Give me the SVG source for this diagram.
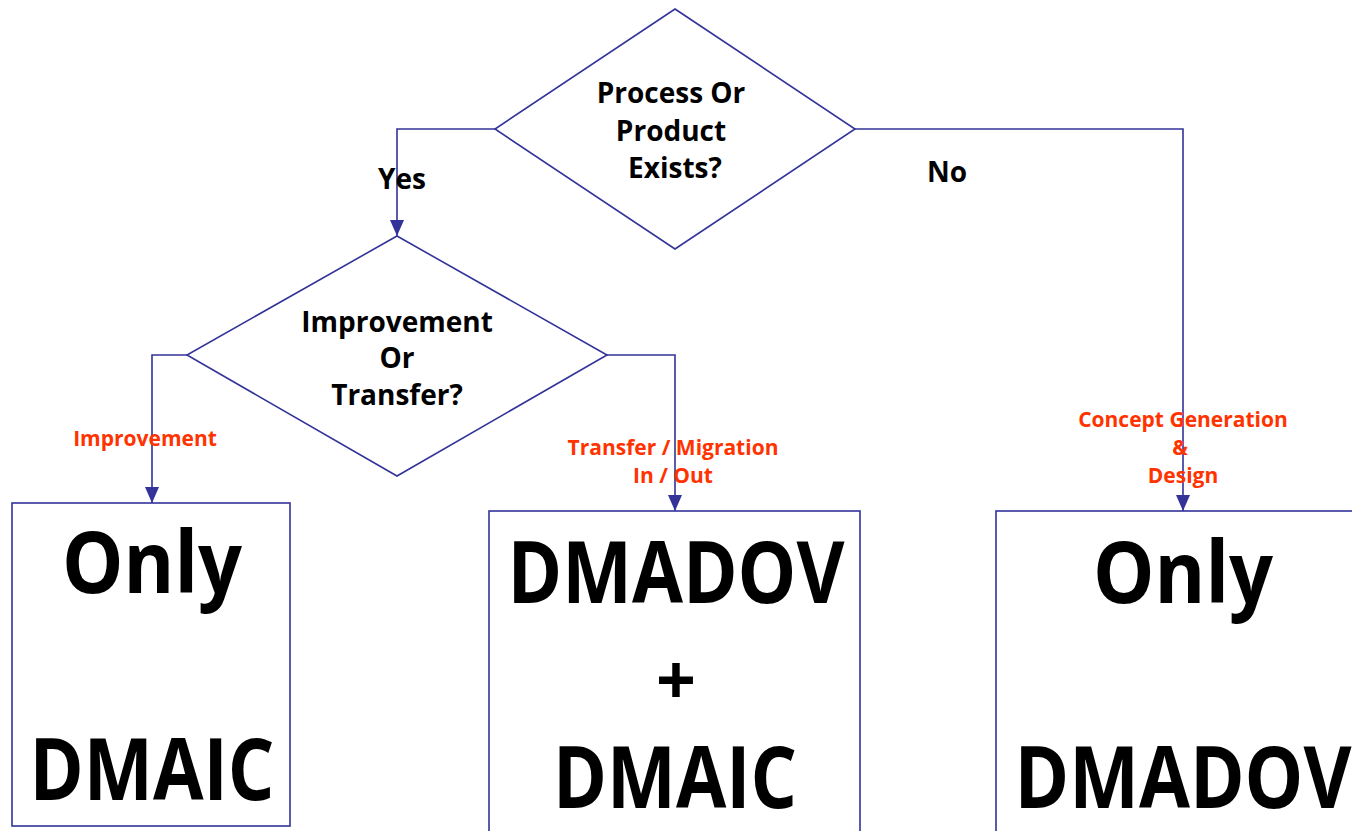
<svg xmlns="http://www.w3.org/2000/svg" width="1352" height="831" viewBox="0 0 1352 831">
<defs>
<marker id="arr" markerUnits="userSpaceOnUse" markerWidth="16" markerHeight="14" refX="16" refY="7" orient="auto">
<path d="M0,0 L16,7 L0,14 z" fill="#333399"/>
</marker>
<style>
.shape{fill:#fff;stroke:#333399;stroke-width:1.6}
.conn{fill:none;stroke:#333399;stroke-width:1.6}
.q{font-family:"Open Sans","DejaVu Sans",sans-serif;font-weight:bold;font-size:28px;fill:#000;text-anchor:middle}
.lbl{font-family:"Open Sans","DejaVu Sans",sans-serif;font-weight:bold;font-size:21px;fill:#FF3300;text-anchor:middle}
.big{font-family:"Open Sans","DejaVu Sans",sans-serif;font-weight:bold;font-size:86px;fill:#000;text-anchor:middle}
.plus{font-family:"Open Sans","DejaVu Sans",sans-serif;font-weight:bold;font-size:70px;fill:#000;text-anchor:middle}
</style>
</defs>
<rect width="1352" height="831" fill="#fff"/>
<g id="connectors">
<path class="conn" d="M495,129 H397 V236" marker-end="url(#arr)"/>
<path class="conn" d="M855,129 H1183 V511" marker-end="url(#arr)"/>
<path class="conn" d="M187,355 H152 V503" marker-end="url(#arr)"/>
<path class="conn" d="M607,355 H675 V511" marker-end="url(#arr)"/>
</g>
<g id="d1">
<polygon class="shape" points="675,9 855,129 675,249 495,129"/>
<text class="q" x="671" y="103">Process Or</text>
<text class="q" x="671" y="141">Product</text>
<text class="q" x="675" y="178">Exists?</text>
</g>
<g id="d2">
<polygon class="shape" points="397,236 607,355 397,476 187,355"/>
<text class="q" x="397" y="332">Improvement</text>
<text class="q" x="397" y="368">Or</text>
<text class="q" x="397" y="405">Transfer?</text>
</g>
<g id="labels">
<text class="q" x="402" y="189">Yes</text>
<text class="q" x="947" y="182">No</text>
<text class="lbl" x="145" y="446">Improvement</text>
<text class="lbl" x="673" y="455">Transfer / Migration</text>
<text class="lbl" x="673" y="483">In / Out</text>
<text class="lbl" x="1183" y="427">Concept Generation</text>
<text class="lbl" x="1180" y="455">&amp;</text>
<text class="lbl" x="1183" y="483">Design</text>
</g>
<g id="b1">
<rect class="shape" x="12" y="503" width="278" height="323"/>
<text class="big" x="152" y="593" textLength="180" lengthAdjust="spacingAndGlyphs">Only</text>
<text class="big" x="152" y="800" textLength="245" lengthAdjust="spacingAndGlyphs">DMAIC</text>
</g>
<g id="b2">
<rect class="shape" x="489" y="511" width="371" height="330"/>
<text class="big" x="676" y="603" textLength="337" lengthAdjust="spacingAndGlyphs">DMADOV</text>
<text class="plus" x="676" y="705">+</text>
<text class="big" x="675" y="808" textLength="244" lengthAdjust="spacingAndGlyphs">DMAIC</text>
</g>
<g id="b3">
<rect class="shape" x="996" y="511" width="370" height="330"/>
<text class="big" x="1183" y="603" textLength="180" lengthAdjust="spacingAndGlyphs">Only</text>
<text class="big" x="1183" y="808" textLength="337" lengthAdjust="spacingAndGlyphs">DMADOV</text>
</g>
</svg>
